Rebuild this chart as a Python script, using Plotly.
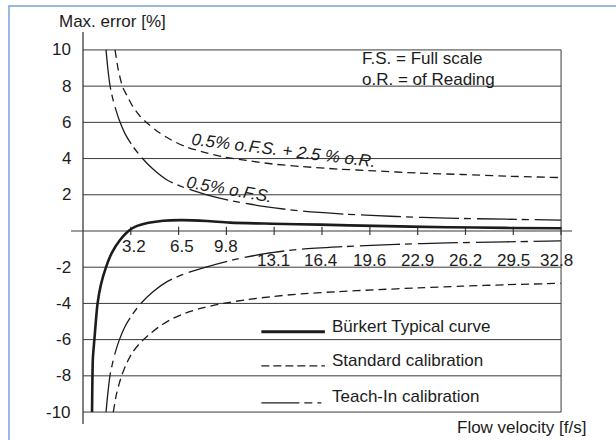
import plotly.graph_objects as go

# ---------------- data ----------------
tick_vals = [3.28, 6.56, 9.84, 13.12, 16.40, 19.69, 22.97, 26.25, 29.53, 32.81]
tick_text = ["3.2", "6.5", "9.8", "13.1", "16.4", "19.6", "22.9", "26.2", "29.5", "32.8"]
y_ticks = [10, 8, 6, 4, 2, -2, -4, -6, -8, -10]

burkert_x = [0.62, 0.64, 0.68, 0.78, 0.88, 1.0, 1.22, 1.58, 1.97, 2.54, 3.12, 3.6,
             4.5, 5.5, 6.8, 8.5, 10.1, 13.0, 16.3, 20.0, 25.0, 29.0, 32.8]
burkert_y = [-10.0, -8.5, -7.0, -6.0, -5.0, -4.0, -3.0, -2.0, -1.22, -0.5, 0.0, 0.24,
             0.45, 0.57, 0.6, 0.55, 0.46, 0.4, 0.35, 0.28, 0.21, 0.17, 0.15]

std_up_x = [2.2, 2.4, 2.7, 3.0, 3.4, 3.9, 4.5, 5.2, 6.0, 7.0, 8.2, 9.6, 11.2, 13.0,
            15.0, 17.5, 20.0, 23.0, 26.0, 29.0, 32.8]
std_up_y = [10.0, 9.0, 8.0, 7.5, 6.9, 6.35, 5.9, 5.45, 5.05, 4.67, 4.37, 4.1, 3.9, 3.7,
            3.56, 3.42, 3.32, 3.2, 3.12, 3.03, 2.95]

std_lo_x = [2.08, 2.3, 2.65, 3.0, 3.4, 3.9, 4.5, 5.2, 6.0, 7.0, 8.2, 9.6, 11.2, 13.0,
            15.0, 17.5, 20.0, 23.0, 26.0, 29.0, 32.8]
std_lo_y = [-10.0, -9.0, -8.0, -7.3, -6.7, -6.2, -5.75, -5.3, -4.9, -4.55, -4.25, -4.0,
            -3.8, -3.62, -3.47, -3.35, -3.25, -3.14, -3.05, -2.97, -2.89]

teach_x = [1.58, 1.7, 1.85, 2.0, 2.2, 2.5, 2.9, 3.4, 4.0, 4.8, 5.8, 7.0, 8.5, 10.3,
           12.5, 15.0, 18.0, 21.5, 25.0, 29.0, 32.8]
teach_up_y = [10.0, 9.0, 8.05, 7.45, 6.85, 6.1, 5.35, 4.7, 4.08, 3.42, 2.8, 2.38, 2.0,
              1.65, 1.35, 1.1, 0.93, 0.8, 0.71, 0.65, 0.6]
teach_lo_y = [-10.0, -9.0, -8.0, -7.4, -6.75, -6.0, -5.25, -4.6, -3.98, -3.35, -2.78, -2.36,
              -1.98, -1.6, -1.25, -1.0, -0.86, -0.74, -0.66, -0.6, -0.55]

legend_labels = ["Bürkert Typical curve", "Standard calibration", "Teach-In calibration"]

# ---------------- styling ----------------
INK = "#1c1c1c"
GRID = "#3a3a3a"
FONT = "Liberation Sans, Arial, Helvetica, sans-serif"
FS = 17
TEACH_DASH = "40px,5px,7px,6px"
STD_DASH = "8px,5px"

fig = go.Figure()


def curve(x, y, width, dash):
    fig.add_trace(go.Scatter(x=x, y=y, mode="lines", hoverinfo="skip",
                             line=dict(color=INK, width=width, dash=dash,
                                       shape="spline", smoothing=0.8),
                             showlegend=False))


curve(std_up_x, std_up_y, 1.3, STD_DASH)
curve(std_lo_x, std_lo_y, 1.3, STD_DASH)
curve(teach_x, teach_up_y, 1.3, TEACH_DASH)
curve(teach_x, teach_lo_y, 1.3, TEACH_DASH)
curve(burkert_x, burkert_y, 2.6, "solid")

shapes = []
x_lo, x_hi = -0.824, 33.56
y_lo, y_hi = -10.66, 10.99
x_end = tick_vals[-1]

# horizontal grid lines
for v in y_ticks:
    shapes.append(dict(type="line", xref="x", yref="y", x0=0, x1=x_end, y0=v, y1=v,
                       line=dict(color=GRID, width=1), layer="below"))
# zero line (x axis)
shapes.append(dict(type="line", xref="x", yref="y", x0=x_lo, x1=x_hi, y0=0, y1=0,
                   line=dict(color=GRID, width=1.2), layer="below"))
# y axis line
shapes.append(dict(type="line", xref="x", yref="y", x0=0, x1=0, y0=y_lo, y1=y_hi,
                   line=dict(color=GRID, width=1.3), layer="below"))
# right border
shapes.append(dict(type="line", xref="x", yref="y", x0=x_end, x1=x_end, y0=-10, y1=10,
                   line=dict(color=GRID, width=1), layer="below"))
# tick marks crossing the x axis
for t in tick_vals:
    shapes.append(dict(type="line", xref="x", yref="y", x0=t, x1=t, y0=-0.22, y1=0.24,
                       line=dict(color=GRID, width=1.2), layer="below"))

# legend sample lines
leg_x0, leg_x1 = 12.24, 16.6
leg_y = [-5.57, -7.45, -9.49]
leg_style = [dict(width=3, dash="solid"), dict(width=1.3, dash="8px,4px"),
             dict(width=1.3, dash="38px,5px,8px,5px,4px,60px")]
for yy, st in zip(leg_y, leg_style):
    shapes.append(dict(type="line", xref="x", yref="y", x0=leg_x0, x1=leg_x1, y0=yy, y1=yy,
                       line=dict(color=INK, width=st["width"], dash=st["dash"])))

# blue frame
shapes.append(dict(type="rect", xref="paper", yref="paper", x0=-0.1238, x1=1.3,
                   y0=-0.3, y1=1.0663, line=dict(color="#7aa3d9", width=1.5)))

annotations = []
for v in y_ticks:
    annotations.append(dict(x=-0.68, y=v, xref="x", yref="y", text=str(v), showarrow=False,
                            xanchor="right", yanchor="middle",
                            font=dict(family=FONT, size=FS, color=INK)))
nudge = [3, 3, 0, -1, -1, 0, 0, 0, 0, -5]
for i, (t, lab) in enumerate(zip(tick_vals, tick_text)):
    annotations.append(dict(x=t, y=(-0.86 if i < 3 else -1.63), xref="x", yref="y", text=lab,
                            showarrow=False, xanchor="center", yanchor="middle", xshift=nudge[i],
                            font=dict(family=FONT, size=FS, color=INK)))

leg_text_y = [-5.25, -7.13, -9.16]
for yy, lab in zip(leg_text_y, legend_labels):
    annotations.append(dict(x=16.95, y=yy, xref="x", yref="y", text=lab, showarrow=False,
                            xanchor="left", yanchor="middle",
                            font=dict(family=FONT, size=FS, color=INK)))

annotations += [
    dict(x=-0.028, y=1.027, xref="paper", yref="paper", text="Max. error [%]",
         showarrow=False, xanchor="left", yanchor="middle",
         font=dict(family=FONT, size=FS, color=INK)),
    dict(x=1.032, y=-0.008, xref="paper", yref="paper", text="Flow velocity [f/s]",
         showarrow=False, xanchor="right", yanchor="middle",
         font=dict(family=FONT, size=FS, color=INK)),
    dict(x=19.0, y=9.55, xref="x", yref="y", text="F.S. = Full scale",
         showarrow=False, xanchor="left", yanchor="middle",
         font=dict(family=FONT, size=FS, color=INK)),
    dict(x=19.0, y=8.36, xref="x", yref="y", text="o.R. = of Reading",
         showarrow=False, xanchor="left", yanchor="middle",
         font=dict(family=FONT, size=FS, color=INK)),
    dict(x=13.73, y=4.47, xref="x", yref="y", text="<i>0.5% o.F.S. + 2.5 % o.R.</i>",
         showarrow=False, textangle=7, xanchor="center", yanchor="middle",
         font=dict(family=FONT, size=FS, color=INK)),
    dict(x=10.02, y=2.31, xref="x", yref="y", text="<i>0.5% o.F.S.</i>",
         showarrow=False, textangle=10, xanchor="center", yanchor="middle",
         font=dict(family=FONT, size=FS, color=INK)),
]

fig.update_layout(
    width=616, height=440, autosize=False,
    margin=dict(l=71, r=44, t=32, b=16),
    paper_bgcolor="white", plot_bgcolor="white",
    xaxis=dict(range=[x_lo, x_hi], visible=False, fixedrange=True),
    yaxis=dict(range=[y_lo, y_hi], visible=False, fixedrange=True),
    shapes=shapes, annotations=annotations, showlegend=False,
    font=dict(family=FONT, size=FS, color=INK),
)

fig.write_html("out.html", config={"displayModeBar": False},
               post_script="document.body.style.margin='0';document.body.style.overflow='hidden';")
